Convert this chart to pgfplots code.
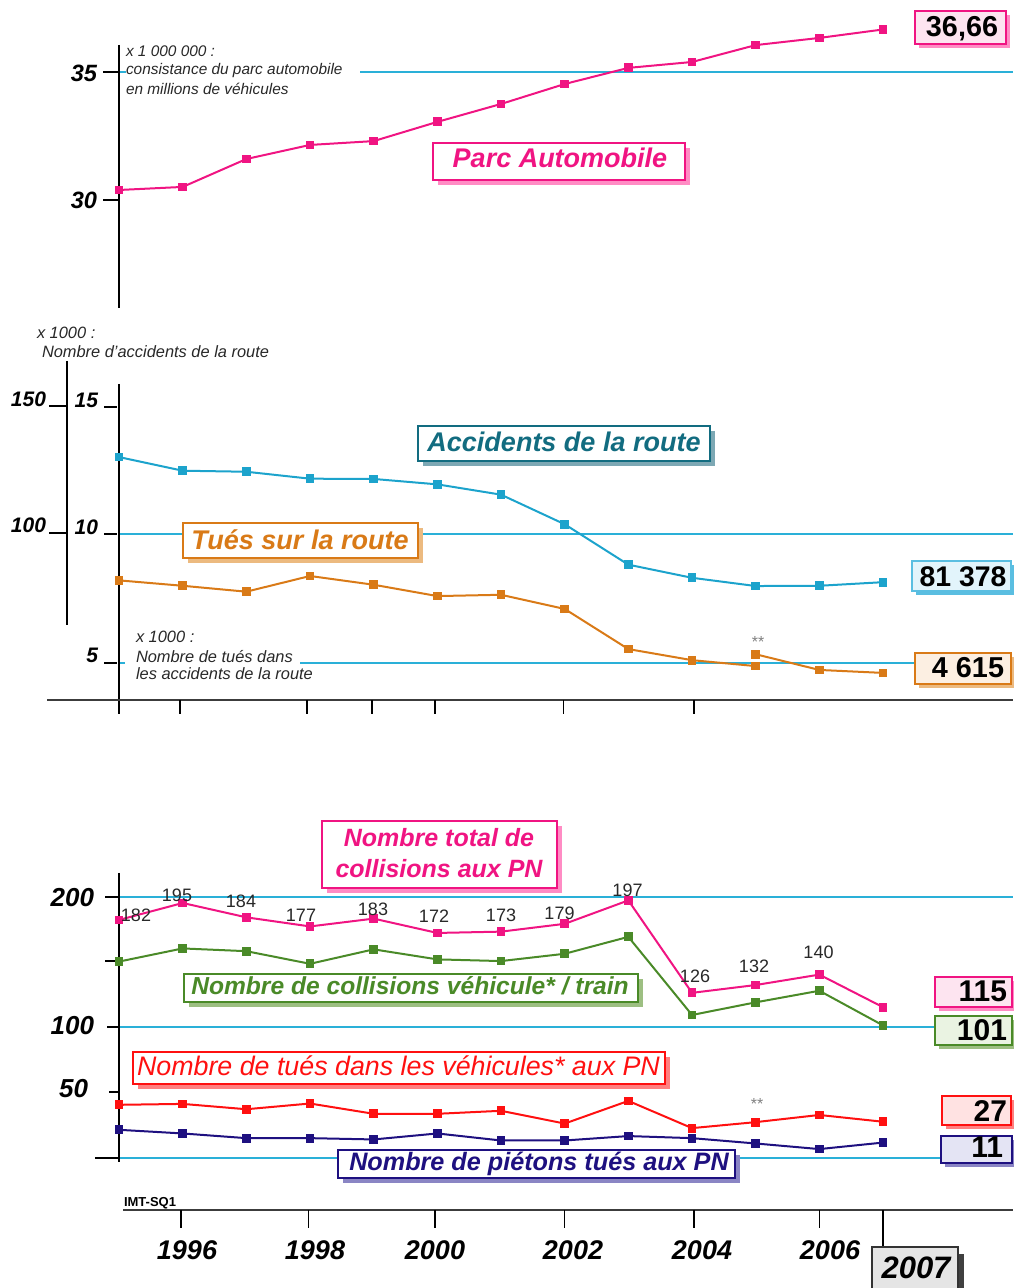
\documentclass[border=0pt]{standalone}
\usepackage{fontspec}
\setmainfont{Liberation Sans}
\usepackage{pgfplots}
\pgfplotsset{compat=1.18}

\definecolor{cpink}{RGB}{240,20,130}
\definecolor{cpinkL}{RGB}{253,228,240}
\definecolor{cpinkS}{RGB}{255,140,196}
\definecolor{ccyan}{RGB}{28,163,204}
\definecolor{cgrid}{RGB}{42,176,216}
\definecolor{ccyanL}{RGB}{226,244,251}
\definecolor{ccyanS}{RGB}{90,190,225}
\definecolor{cteal}{RGB}{18,108,128}
\definecolor{ctealS}{RGB}{125,168,180}
\definecolor{corange}{RGB}{217,122,23}
\definecolor{corangeL}{RGB}{252,239,226}
\definecolor{corangeS}{RGB}{236,186,128}
\definecolor{cgreen}{RGB}{74,138,40}
\definecolor{cgreenL}{RGB}{234,243,226}
\definecolor{cgreenS}{RGB}{157,191,130}
\definecolor{cred}{RGB}{255,16,16}
\definecolor{credL}{RGB}{255,226,226}
\definecolor{credS}{RGB}{255,128,128}
\definecolor{cnavy}{RGB}{30,16,128}
\definecolor{cnavyL}{RGB}{228,228,244}
\definecolor{cnavyS}{RGB}{138,133,196}
\definecolor{ctext}{RGB}{40,40,40}
\definecolor{caxis}{RGB}{60,60,60}

\pgfplotsset{
  panel/.style={hide axis, scale only axis, width=506.5pt,
    xmin=1993.13089, xmax=2009.0419, clip=false, anchor=south west},
  series/.style={line width=1pt, mark=square*, mark size=1.7pt, mark options={solid}}
}

% x1, Ytop, x2, Ybottom, border, fill, shadow, offset
\newcommand{\lbox}[8]{%
  \fill[#7] ({#1+#8},{#4-#8}) rectangle ({#3+#8},{#2-#8});
  \filldraw[draw=#5, fill=#6, line width=1.1pt] (#1,#2) rectangle (#3,#4);}
\newcommand{\fsz}[1]{\fontsize{#1}{#1}\selectfont}
\newcommand{\bi}{\bfseries\itshape}

\begin{document}
\begin{tikzpicture}[x=0.5pt,y=0.5pt]
\useasboundingbox (0,0) rectangle (1013,1288);
\tikzset{every node/.style={inner sep=0pt, outer sep=0pt}}

% ================= background lines =================
% top panel
\draw[cgrid, line width=0.7pt] (360,1216) -- (1013,1216);
\draw[cgrid, line width=0.7pt] (119,1216) -- (126,1216);
\draw[black, line width=1pt] (119,1243) -- (119,980);
\draw[black, line width=1pt] (103,1216) -- (119,1216);
\draw[black, line width=1pt] (103,1088) -- (119,1088);

% middle panel
\draw[cgrid, line width=0.7pt] (119,754) -- (1013,754);
\draw[cgrid, line width=0.7pt] (300,625) -- (915,625);
\draw[cgrid, line width=0.7pt] (119,625) -- (125,625);
\draw[black, line width=1pt] (67,927) -- (67,663);
\draw[black, line width=1pt] (49,882) -- (67,882);
\draw[black, line width=1pt] (49,755) -- (67,755);
\draw[black, line width=1pt] (119,904) -- (119,574);
\draw[black, line width=1pt] (104,881) -- (117,881);
\draw[black, line width=1pt] (104,754) -- (117,754);
\draw[black, line width=1pt] (104,625) -- (117,625);
\draw[caxis, line width=0.9pt] (47,588) -- (1013,588);
\foreach \xx in {180,307,372,435,563.5,694}
  \draw[black, line width=0.9pt] (\xx,588) -- (\xx,574);

% bottom panel
\draw[cgrid, line width=0.7pt] (119,391) -- (1013,391);
\draw[cgrid, line width=0.7pt] (119,261) -- (935,261);
\draw[cgrid, line width=0.7pt] (119,130) -- (940,130);
\draw[black, line width=1pt] (119,415) -- (119,126);
\draw[black, line width=1pt] (105,391) -- (119,391);
\draw[black, line width=1pt] (105,327) -- (119,327);
\draw[black, line width=1pt] (107,261) -- (119,261);
\draw[black, line width=1pt] (109,196) -- (119,196);
\draw[black, line width=1pt] (95,130) -- (119,130);
\draw[caxis, line width=1pt] (123,78) -- (1013,78);
\foreach \xx in {181,308.5,435,564.5,694,819.5}
  \draw[black, line width=0.9pt] (\xx,78) -- (\xx,60);
\draw[black, line width=0.9pt] (883,78) -- (883,40);

% ================= data =================
\begin{axis}[panel, at={(0pt,484pt)}, height=160pt, ymin=25.3125, ymax=37.8125]
\addplot[series, color=cpink] coordinates {(1995,30.39) (1996,30.51) (1997,31.60) (1998,32.15) (1999,32.30) (2000,33.05) (2001,33.75) (2002,34.53) (2003,35.16) (2004,35.39) (2005,36.05) (2006,36.33) (2007,36.66)};
\end{axis}

\begin{axis}[panel, at={(0pt,264pt)}, height=220pt, ymin=12.32, ymax=183.26]
\addplot[series, color=ccyan] coordinates {(1995,130.0) (1996,124.7) (1997,124.3) (1998,121.6) (1999,121.5) (2000,119.4) (2001,115.4) (2002,103.9) (2003,88.2) (2004,83.1) (2005,79.9) (2006,80.0) (2007,81.4)};
\end{axis}

\begin{axis}[panel, at={(0pt,264pt)}, height=220pt, ymin=1.232, ymax=18.326]
\addplot[series, color=corange] coordinates {(1995,8.21) (1996,8.00) (1997,7.77) (1998,8.38) (1999,8.04) (2000,7.60) (2001,7.65) (2002,7.10) (2003,5.54) (2004,5.11) (2005,4.88)};
\addplot[series, color=corange] coordinates {(2005,5.34) (2006,4.73) (2007,4.615)};
\end{axis}

\begin{axis}[panel, at={(0pt,0pt)}, height=264pt, ymin=-100.69, ymax=304.84]
\addplot[series, color=cpink] coordinates {(1995,182) (1996,195) (1997,184) (1998,177) (1999,183) (2000,172) (2001,173) (2002,179) (2003,197) (2004,126) (2005,132) (2006,140) (2007,115)};
\addplot[series, color=cgreen] coordinates {(1995,150.0) (1996,160.1) (1997,158.0) (1998,148.3) (1999,159.4) (2000,151.7) (2001,150.4) (2002,156.0) (2003,169.0) (2004,109.0) (2005,118.7) (2006,127.6) (2007,101)};
\addplot[series, color=cred] coordinates {(1995,40.0) (1996,40.7) (1997,36.6) (1998,41.0) (1999,33.1) (2000,33.1) (2001,35.4) (2002,25.6) (2003,43.0) (2004,22.1) (2005,26.7) (2006,32.2) (2007,27)};
\addplot[series, color=cnavy] coordinates {(1995,20.8) (1996,18.0) (1997,14.4) (1998,14.4) (1999,13.4) (2000,18.0) (2001,12.6) (2002,12.6) (2003,16.0) (2004,14.4) (2005,10.3) (2006,6.0) (2007,11)};
\end{axis}

% ================= text & boxes =================
% top panel
\node[anchor=base east] at (97,1206) {\fsz{11.8}\bi 35};
\node[anchor=base east] at (97,1079) {\fsz{11.8}\bi 30};
\node[anchor=base west, text=ctext] at (126,1231) {\fsz{7.7}\itshape x 1 000 000 :};
\node[anchor=base west, text=ctext] at (126,1213) {\fsz{7.7}\itshape consistance du parc automobile};
\node[anchor=base west, text=ctext] at (126,1193) {\fsz{7.7}\itshape en millions de véhicules};
\lbox{433}{1145}{685}{1108}{cpink}{white}{cpinkS}{5}
\node[anchor=base, text=cpink] at (560,1120) {\fsz{13.5}\bi Parc Automobile};
\lbox{915}{1277}{1006}{1244}{cpink}{cpinkL}{cpinkS}{4}
\node[anchor=base] at (962,1251) {\fsz{14.4}\bfseries 36,66};

% middle panel
\node[anchor=base west, text=ctext] at (37,949) {\fsz{8.2}\itshape x 1000 :};
\node[anchor=base west, text=ctext] at (42,930) {\fsz{8.2}\itshape Nombre d'accidents de la route};
\node[anchor=base east] at (46,881) {\fsz{10.5}\bi 150};
\node[anchor=base east] at (46,755) {\fsz{10.5}\bi 100};
\node[anchor=base east] at (98,880) {\fsz{10.5}\bi 15};
\node[anchor=base east] at (98,753) {\fsz{10.5}\bi 10};
\node[anchor=base east] at (98,625) {\fsz{10.5}\bi 5};
\node[anchor=base west, text=ctext] at (136,645) {\fsz{8.2}\itshape x 1000 :};
\node[anchor=base west, text=ctext] at (136,625) {\fsz{8.2}\itshape Nombre de tués dans};
\node[anchor=base west, text=ctext] at (136,608) {\fsz{8.2}\itshape les accidents de la route};
\node[text=gray] at (758,646) {\fsz{8}**};
\lbox{418}{862}{710}{827}{cteal}{white}{ctealS}{5}
\node[anchor=base, text=cteal] at (564,836) {\fsz{13.5}\bi Accidents de la route};
\lbox{183}{765}{418}{730}{corange}{white}{corangeS}{5}
\node[anchor=base, text=corange] at (300,738) {\fsz{13.5}\bi Tués sur la route};
\lbox{912}{727}{1011}{697}{ccyanS}{ccyanL}{ccyanS}{4}
\node[anchor=base] at (963,701) {\fsz{14.2}\bfseries 81 378};
\lbox{915}{635}{1011}{604}{corange}{corangeL}{corangeS}{4}
\node[anchor=base] at (968,610) {\fsz{14.4}\bfseries 4 615};

% bottom panel
\node[anchor=base east] at (94,381) {\fsz{13}\bi 200};
\node[anchor=base east] at (94,253) {\fsz{13}\bi 100};
\node[anchor=base east] at (88,190) {\fsz{13}\bi 50};
\foreach \xx/\yy/\tt in {136/366/182, 177/386/195, 241/380/184, 301/366/177, 373/372/183, 434/365/172, 501/366/173, 559.5/368/179, 627.5/391/197, 695/305/126, 754/315/132, 818.5/329/140}
  \node[anchor=base, text=ctext] at (\xx,\yy) {\fsz{9}\tt};
\node[text=gray] at (757,184) {\fsz{8}**};

\lbox{322}{467}{557}{400}{cpink}{white}{cpinkS}{5}
\node[anchor=base, text=cpink] at (439,441) {\fsz{12.5}\bi Nombre total de};
\node[anchor=base, text=cpink] at (439,410) {\fsz{12.5}\bi collisions aux PN};
\lbox{184}{314}{638}{286}{cgreen}{white}{cgreenS}{5}
\node[anchor=base, text=cgreen] at (410,293) {\fsz{12.3}\bi Nombre de collisions véhicule* / train};
\lbox{133}{236}{665}{204}{cred}{white}{credS}{5}
\node[anchor=base, text=cred] at (398.5,212) {\fsz{13.4}\itshape Nombre de tués dans les véhicules* aux PN};
\lbox{338}{138}{735}{110}{cnavy}{white}{cnavyS}{5}
\node[anchor=base, text=cnavy] at (539,117) {\fsz{12.6}\bi Nombre de piétons tués aux PN};

\lbox{935}{311}{1012}{281}{cpink}{cpinkL}{cpinkS}{4}
\node[anchor=base east] at (1007,286) {\fsz{15}\bfseries 115};
\lbox{935}{272}{1012}{243}{cgreen}{cgreenL}{cgreenS}{4}
\node[anchor=base east] at (1007,247) {\fsz{15}\bfseries 101};
\lbox{942}{192}{1011}{163}{cred}{credL}{credS}{4}
\node[anchor=base east] at (1007,166) {\fsz{15}\bfseries 27};
\lbox{941}{152}{1012}{125}{cnavy}{cnavyL}{cnavyS}{4}
\node[anchor=base east] at (1003,130) {\fsz{15}\bfseries 11};

% x axis labels
\node[anchor=base west] at (124,81) {\fsz{6.5}\bfseries IMT-SQ1};
\foreach \xx/\tt in {187/1996, 315/1998, 435/2000, 573/2002, 702/2004, 830/2006}
  \node[anchor=base] at (\xx,28) {\fsz{13.5}\bi \tt};
\fill[black!75] (959,34) rectangle (964,-10);
\filldraw[draw=black!80, fill=black!10, line width=0.8pt] (872,41) rectangle (958,-10);
\node[anchor=base] at (916,10) {\fsz{15.5}\bi 2007};
\end{tikzpicture}
\end{document}
